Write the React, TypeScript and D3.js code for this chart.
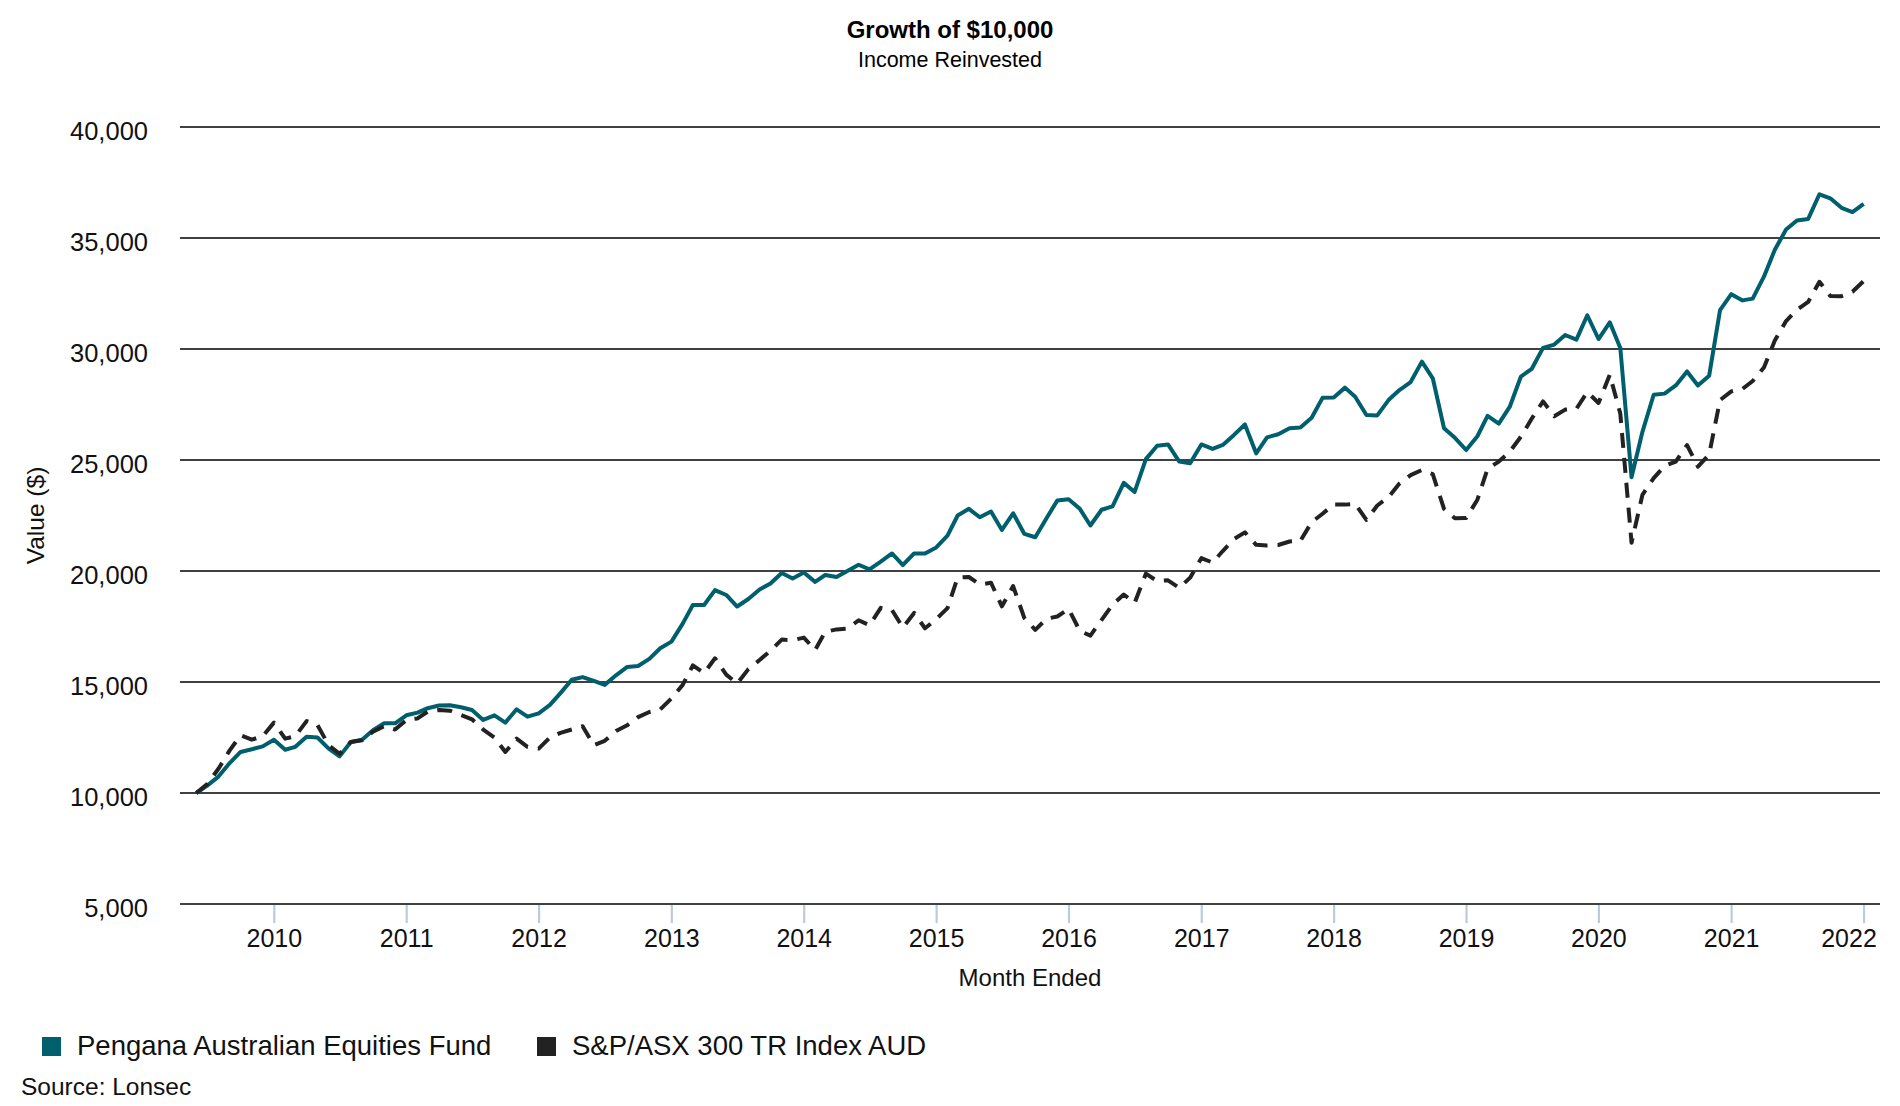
import { useRef, useEffect } from 'react'
import * as d3 from 'd3'

// Month-end values, first point = 31 May 2009
const START_YEAR = 2009
const START_MONTH = 4 // May (0-based)

const fundValues = [
  10000, 10330, 10740, 11350, 11850, 11970, 12100, 12400, 11950, 12080,
  12530, 12500, 12000, 11650, 12300, 12400, 12830, 13140, 13140, 13500,
  13620, 13820, 13940, 13950, 13860, 13740, 13290, 13500, 13170, 13770,
  13440, 13590, 13970, 14500, 15100, 15220, 15050, 14870, 15300, 15680,
  15720, 16040, 16520, 16820, 17630, 18470, 18470, 19140, 18920, 18400,
  18740, 19170, 19440, 19910, 19660, 19930, 19510, 19820, 19730, 20000,
  20280, 20070, 20420, 20790, 20270, 20790, 20790, 21060, 21590, 22500,
  22800, 22420, 22680, 21850, 22600, 21670, 21520, 22380, 23180, 23230,
  22800, 22050, 22760, 22910, 23970, 23560, 25040, 25640, 25700, 24930,
  24850, 25700, 25500, 25680, 26130, 26600, 25300, 26020, 26160, 26430,
  26460, 26900, 27800, 27820, 28260, 27850, 27030, 27010, 27700, 28150,
  28510, 29430, 28680, 26430, 26000, 25450, 26070, 26990, 26640, 27390,
  28760, 29110, 30050, 30200, 30630, 30420, 31520, 30450, 31200, 30050,
  24220, 26270, 27940, 27990, 28360, 28990, 28360, 28800, 31750, 32470,
  32190, 32270, 33260, 34470, 35380, 35790, 35860, 36970, 36790, 36360,
  36170, 36540,
]

const indexValues = [
  10000, 10400, 11090, 11920, 12600, 12400, 12560, 13170, 12450, 12560,
  13240, 13060, 12150, 11770, 12300, 12380, 12760, 13010, 12860, 13290,
  13360, 13670, 13740, 13710, 13510, 13320, 12860, 12500, 11850, 12450,
  12080, 12000, 12500, 12710, 12860, 13010, 12150, 12350, 12790, 13050,
  13420, 13650, 13760, 14260, 14870, 15750, 15400, 16070, 15330, 14930,
  15580, 15990, 16410, 16910, 16880, 17000, 16440, 17260, 17370, 17400,
  17780, 17560, 18340, 18240, 17450, 18110, 17420, 17830, 18330, 19700,
  19730, 19390, 19470, 18410, 19320, 17880, 17350, 17850, 17950, 18290,
  17300, 17090, 17800, 18480, 18940, 18560, 19880, 19550, 19580, 19240,
  19700, 20580, 20380, 20900, 21440, 21740, 21180, 21150, 21170, 21330,
  21360, 22200, 22580, 23000, 22990, 23030, 22300, 22950, 23330, 23940,
  24320, 24550, 24360, 22800, 22380, 22390, 23210, 24600, 24930, 25370,
  26050, 26870, 27640, 26970, 27270, 27310, 28060, 27570, 28840, 27090,
  21270, 23430, 24180, 24730, 24930, 25670, 24700, 25250, 27700, 28090,
  28200, 28560, 29170, 30380, 31260, 31770, 32120, 33030, 32390, 32380,
  32580, 33060,
]

const yTicks = [5000, 10000, 15000, 20000, 25000, 30000, 35000, 40000]
const xTickYears = [2010, 2011, 2012, 2013, 2014, 2015, 2016, 2017, 2018, 2019, 2020, 2021, 2022]

const seriesNames = ['Pengana Australian Equities Fund', 'S&P/ASX 300 TR Index AUD']
const seriesColors = ['#005f6d', '#222222']

const FONT = '"Liberation Sans", Arial, Helvetica, sans-serif'

export default function App() {
  const svgRef = useRef<SVGSVGElement>(null)

  useEffect(() => {
    document.body.style.margin = '0'
    if (!svgRef.current) return

    const width = 1900
    const height = 1106
    const left = 180
    const right = 1880
    const top = 127
    const bottom = 904

    const svg = d3.select(svgRef.current)
    svg.selectAll('*').remove()
    svg.attr('width', width).attr('height', height).attr('viewBox', `0 0 ${width} ${height}`)

    const dates = fundValues.map((_, i) => new Date(START_YEAR, START_MONTH + i + 1, 0))
    const pad = 45 * 24 * 3600 * 1000
    const first = dates[0].getTime()
    const last = dates[dates.length - 1].getTime()

    const x = d3.scaleTime().domain([new Date(first - pad), new Date(last + pad)]).range([left, right])
    const y = d3.scaleLinear().domain([5000, 40000]).range([bottom, top])

    // Title
    svg.append('text')
      .attr('x', width / 2).attr('y', 38)
      .attr('text-anchor', 'middle')
      .style('font-family', FONT).style('font-size', '24px').style('font-weight', 'bold')
      .text('Growth of $10,000')

    svg.append('text')
      .attr('x', width / 2).attr('y', 67)
      .attr('text-anchor', 'middle')
      .style('font-family', FONT).style('font-size', '21.5px')
      .text('Income Reinvested')

    // Gridlines + y labels
    svg.append('g').selectAll('line')
      .data(yTicks)
      .join('line')
      .attr('x1', left).attr('x2', right)
      .attr('y1', d => y(d)).attr('y2', d => y(d))
      .attr('stroke', '#000').attr('stroke-width', 1.3)

    svg.append('g').selectAll('text')
      .data(yTicks)
      .join('text')
      .attr('x', 148).attr('y', d => y(d) + 13)
      .attr('text-anchor', 'end')
      .style('font-family', FONT).style('font-size', '25.5px').style('fill', '#111')
      .text(d => d3.format(',')(d))

    // X ticks
    const tickDates = xTickYears.map(yr => new Date(yr, 0, 1))
    svg.append('g').selectAll('line')
      .data(tickDates)
      .join('line')
      .attr('x1', d => x(d)).attr('x2', d => x(d))
      .attr('y1', bottom + 1).attr('y2', bottom + 19)
      .attr('stroke', '#bccbdb').attr('stroke-width', 2.2)

    svg.append('g').selectAll('text')
      .data(tickDates)
      .join('text')
      .attr('x', d => Math.min(x(d), right - 31))
      .attr('y', 947)
      .attr('text-anchor', 'middle')
      .style('font-family', FONT).style('font-size', '25px').style('fill', '#111')
      .text(d => d3.timeFormat('%Y')(d))

    // Axis titles
    svg.append('text')
      .attr('x', (left + right) / 2).attr('y', 986)
      .attr('text-anchor', 'middle')
      .style('font-family', FONT).style('font-size', '24px').style('fill', '#111')
      .text('Month Ended')

    svg.append('text')
      .attr('transform', `translate(44,${(top + bottom) / 2}) rotate(-90)`)
      .attr('text-anchor', 'middle')
      .style('font-family', FONT).style('font-size', '24.5px').style('fill', '#111')
      .text('Value ($)')

    // Lines
    const line = d3.line<number>()
      .x((_, i) => x(dates[i]))
      .y(d => y(d))

    svg.append('path')
      .datum(fundValues)
      .attr('d', line)
      .attr('fill', 'none')
      .attr('stroke', seriesColors[0])
      .attr('stroke-width', 4)
      .attr('stroke-linejoin', 'round')

    svg.append('path')
      .datum(indexValues)
      .attr('d', line)
      .attr('fill', 'none')
      .attr('stroke', seriesColors[1])
      .attr('stroke-width', 4)
      .attr('stroke-dasharray', '15,10')
      .attr('stroke-linejoin', 'round')

    // Legend
    const legendX = [42, 537]
    const lg = svg.append('g').selectAll('g')
      .data(seriesNames)
      .join('g')
      .attr('transform', (_, i) => `translate(${legendX[i]},1037)`)
    lg.append('rect')
      .attr('width', 19).attr('height', 19)
      .attr('fill', (_, i) => seriesColors[i])
    lg.append('text')
      .attr('x', 35).attr('y', 18)
      .style('font-family', FONT).style('font-size', '27.5px').style('fill', '#111')
      .text(d => d)

    svg.append('text')
      .attr('x', 21).attr('y', 1095)
      .style('font-family', FONT).style('font-size', '24.5px').style('fill', '#111')
      .text('Source: Lonsec')
  }, [])

  return <svg ref={svgRef} style={{ display: 'block' }} />
}
